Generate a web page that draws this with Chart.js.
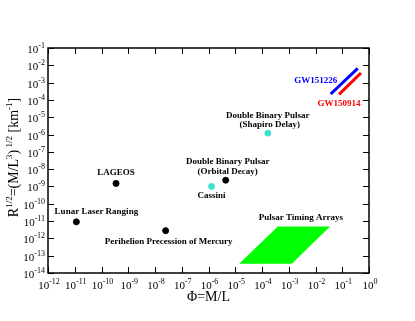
<!DOCTYPE html>
<html>
<head>
<meta charset="utf-8">
<script src="https://cdn.jsdelivr.net/npm/chart.js@4"></script>
<style>
  html, body { margin: 0; padding: 0; background: #fff; }
  #wrap { width: 415px; height: 321px; }
</style>
</head>
<body>
<div id="wrap"><canvas id="chart"></canvas></div>
<script>
const blackX = [1.15e-11, 3.5e-10, 2.5e-8, 4.4e-6]
const blackY = [9e-12, 1.5e-9, 2.8e-12, 2.3e-9]
const cyanX = [1.3e-6, 1.65e-4]
const cyanY = [1e-9, 1.2e-6]
const ptaX = [1.4e-5, 1.3e-3, 3.5e-2, 3.9e-4, 1.4e-5]
const ptaY = [3.4e-14, 3.4e-14, 4.9e-12, 4.9e-12, 3.4e-14]
const gw151226X = [0.037, 0.38]
const gw151226Y = [2.2e-4, 6.7e-3]
const gw150914X = [0.076, 0.5]
const gw150914Y = [2.1e-4, 3.6e-3]

const xTickExp = [-12, -11, -10, -9, -8, -7, -6, -5, -4, -3, -2, -1, 0]
const yTickExp = [-14, -13, -12, -11, -10, -9, -8, -7, -6, -5, -4, -3, -2, -1]

// annotations: anchored at a data point, shifted a little in pixels
const notes = [
  { text: "Lunar Laser Ranging", x: 1.15e-11, y: 9e-12, dx: 20, dy: -10, color: "#000" },
  { text: "LAGEOS", x: 3.5e-10, y: 1.5e-9, dx: 0, dy: -11, color: "#000" },
  { text: "Perihelion Precession of Mercury", x: 2.5e-8, y: 2.8e-12, dx: 3, dy: 11, color: "#000" },
  { text: "Cassini", x: 1.3e-6, y: 1e-9, dx: 0, dy: 9, color: "#000" },
  { text: "Double Binary Pulsar", x: 4.4e-6, y: 2.3e-9, dx: 2, dy: -19, color: "#000" },
  { text: "(Orbital Decay)", x: 4.4e-6, y: 2.3e-9, dx: 2, dy: -9, color: "#000" },
  { text: "Double Binary Pulsar", x: 1.65e-4, y: 1.2e-6, dx: 0, dy: -17, color: "#000" },
  { text: "(Shapiro Delay)", x: 1.65e-4, y: 1.2e-6, dx: 2, dy: -8, color: "#000" },
  { text: "Pulsar Timing Arrays", x: 3.9e-4, y: 4.9e-12, dx: 23, dy: -9, color: "#000" },
  { text: "GW151226", x: 0.037, y: 2.2e-4, dx: -15, dy: -13, color: "#0000ff" },
  { text: "GW150914", x: 0.076, y: 2.1e-4, dx: 0, dy: 9, color: "#ff0000" },
]

const SERIF = "'Liberation Serif', 'Times New Roman', serif"

function toPts(xs, ys) {
  return xs.map((x, i) => ({ x: x, y: ys[i] }))
}

// draw text made of normal and superscript pieces
function drawRich(ctx, parts, x, y, size, supSize, rise, align) {
  let total = 0
  parts.forEach((p) => {
    ctx.font = (p.sup ? supSize : size) + "px " + SERIF
    p.w = ctx.measureText(p.t).width
    total += p.w
  })
  let cx = x
  if (align === "center") cx = x - total / 2
  else if (align === "right") cx = x - total
  ctx.textAlign = "left"
  parts.forEach((p) => {
    ctx.font = (p.sup ? supSize : size) + "px " + SERIF
    ctx.fillText(p.t, cx, p.sup ? y - rise : y)
    cx += p.w
  })
}

const framePlugin = {
  id: "frame",
  afterDatasetsDraw(chart) {
    const ctx = chart.ctx
    const a = chart.chartArea
    const xs = chart.scales.x
    const ys = chart.scales.y
    ctx.save()
    ctx.strokeStyle = "#000"
    ctx.fillStyle = "#000"

    // ticks pointing inward on all four sides
    ctx.lineWidth = 1
    ctx.beginPath()
    xTickExp.forEach((e) => {
      const px = Math.round(xs.getPixelForValue(Math.pow(10, e))) + 0.5
      ctx.moveTo(px, a.bottom); ctx.lineTo(px, a.bottom - 6)
      ctx.moveTo(px, a.top); ctx.lineTo(px, a.top + 6)
    })
    yTickExp.forEach((e) => {
      const py = Math.round(ys.getPixelForValue(Math.pow(10, e))) + 0.5
      ctx.moveTo(a.left, py); ctx.lineTo(a.left + 6, py)
      ctx.moveTo(a.right, py); ctx.lineTo(a.right - 6, py)
    })
    ctx.stroke()

    ctx.lineWidth = 1.5
    ctx.strokeRect(a.left, a.top, a.right - a.left, a.bottom - a.top)

    // tick labels 10^n
    ctx.textBaseline = "alphabetic"
    xTickExp.forEach((e) => {
      const px = xs.getPixelForValue(Math.pow(10, e))
      drawRich(ctx, [{ t: "10" }, { t: String(e).replace("-", "-"), sup: true }], px + 1, a.bottom + 16, 11, 8, 5, "center")
    })
    yTickExp.forEach((e) => {
      const py = ys.getPixelForValue(Math.pow(10, e))
      drawRich(ctx, [{ t: "10" }, { t: String(e), sup: true }], a.left - 3, py + 5, 11, 8, 5, "right")
    })

    // axis titles
    ctx.textBaseline = "middle"
    ctx.font = "14px " + SERIF
    ctx.textAlign = "center"
    ctx.fillText("\u03A6=M/L", (a.left + a.right) / 2, a.bottom + 24)

    ctx.save()
    ctx.translate(18, (a.top + a.bottom) / 2 - 3)
    ctx.rotate(-Math.PI / 2)
    ctx.textBaseline = "alphabetic"
    drawRich(ctx, [
      { t: "R" }, { t: "1/2", sup: true }, { t: "=(M/L" }, { t: "3", sup: true },
      { t: ")" }, { t: " 1/2", sup: true }, { t: " [km" }, { t: "-1", sup: true }, { t: "]" },
    ], 0, 0, 14, 9, 6, "center")
    ctx.restore()

    // point annotations
    ctx.textBaseline = "middle"
    ctx.textAlign = "center"
    ctx.font = "bold 9px " + SERIF
    notes.forEach((n) => {
      ctx.fillStyle = n.color
      ctx.fillText(n.text, xs.getPixelForValue(n.x) + n.dx, ys.getPixelForValue(n.y) + n.dy)
    })
    ctx.restore()
  },
}

new Chart(document.getElementById("chart"), {
  type: "scatter",
  data: {
    datasets: [
      {
        label: "Pulsar Timing Arrays",
        data: toPts(ptaX, ptaY),
        showLine: true,
        fill: "shape",
        backgroundColor: "#00ff00",
        borderColor: "#00ff00",
        borderWidth: 0,
        pointRadius: 0,
      },
      {
        label: "GW151226",
        data: toPts(gw151226X, gw151226Y),
        showLine: true,
        borderColor: "#0000ff",
        borderWidth: 3,
        pointRadius: 0,
      },
      {
        label: "GW150914",
        data: toPts(gw150914X, gw150914Y),
        showLine: true,
        borderColor: "#ff0000",
        borderWidth: 3,
        pointRadius: 0,
      },
      {
        label: "solar system / pulsar",
        data: toPts(blackX, blackY),
        backgroundColor: "#000",
        borderColor: "#000",
        pointRadius: 3,
      },
      {
        label: "Shapiro",
        data: toPts(cyanX, cyanY),
        backgroundColor: "#40e0d0",
        borderColor: "#40e0d0",
        pointRadius: 3,
      },
    ],
  },
  options: {
    responsive: true,
    maintainAspectRatio: false,
    animation: false,
    layout: { padding: { left: 48, top: 48, right: 46, bottom: 48 } },
    plugins: { legend: { display: false }, tooltip: { enabled: false } },
    scales: {
      x: { type: "logarithmic", min: 1e-12, max: 1, display: false },
      y: { type: "logarithmic", min: 1e-14, max: 1e-1, display: false },
    },
  },
  plugins: [framePlugin],
})
</script>
</body>
</html>
